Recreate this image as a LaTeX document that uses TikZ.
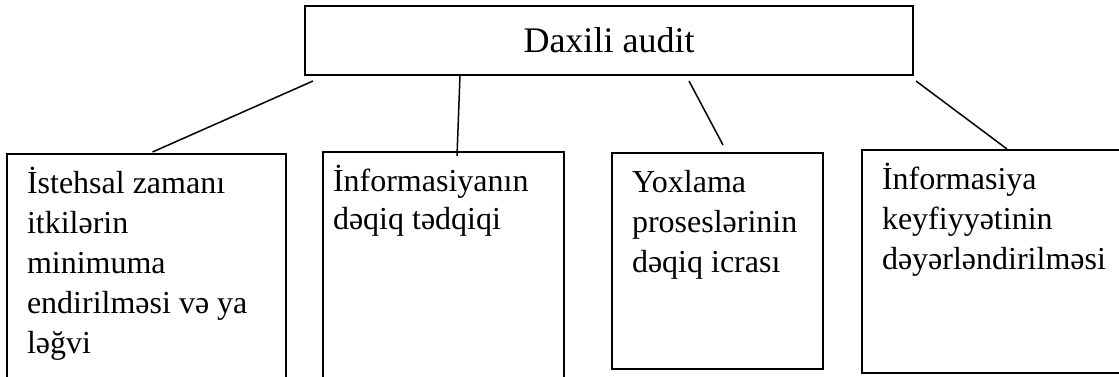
\documentclass[tikz,border=0pt]{standalone}
\usepackage{fontspec}
\setmainfont{Liberation Serif}
\usetikzlibrary{calc, positioning}

\begin{document}
\begin{tikzpicture}
                        [x=0.5pt, y=-0.5pt,
                         every node/.style={draw, line width=0.8pt, outer sep=0pt},
                         ustkutu/.style={anchor=north west, minimum width=304pt, minimum height=34.5pt,
                                         inner sep=0pt, font=\fontsize{18}{21}\selectfont},
                         kutu/.style={anchor=north west, align=flush left, inner xsep=10pt, inner ysep=0pt,
                                      text height=19.5pt, font=\fontsize{16}{20}\selectfont},
                         xett/.style={draw, line width=0.75pt}]

                        \useasboundingbox (0,0) rectangle (1119,376);
                        \clip (0,0) rectangle (1119,376);

                        \node[ustkutu] (audit) at (305,6) {Daxili audit}; % Root

                        \node[kutu, text width=119.5pt, text depth=105.5pt] (itki) at (7,154)
                            {İstehsal zamanı\\ itkilərin\\ minimuma\\ endirilməsi və ya\\ ləğvi};
                        \node[kutu, inner xsep=5pt, text width=110.5pt, text depth=104.5pt] (tedqiq) at (323,152)
                            {İnformasiyanın\\[-1pt] dəqiq tədqiqi};
                        \node[kutu, text width=85.5pt, text depth=88.5pt] (yoxlama) at (612,153)
                            {Yoxlama\\ proseslərinin\\ dəqiq icrası};
                        \node[kutu, text width=125pt, text depth=92pt] (keyfiyyet) at (862,150)
                            {İnformasiya\\ keyfiyyətinin\\ dəyərləndirilməsi};

                        % line ends under the root
                        \coordinate (u1) at ($(audit.south west)+(8,6)$);
                        \coordinate (u2) at ($(audit.south west)+(155,0)$);
                        \coordinate (u3) at ($(audit.south west)+(384,6)$);
                        \coordinate (u4) at ($(audit.south east)+(3,6)$);
                        % line ends over the boxes
                        \coordinate (a1) at ($(itki.north)+(6,-2)$);
                        \coordinate (a2) at ($(tedqiq.north)+(13.5,4)$);
                        \coordinate (a3) at ($(yoxlama.north)+(5.5,-8)$);
                        \coordinate (a4) at ($(keyfiyyet.north)+(0,-1)$);

                        \draw[xett] (u1) -- (a1);
                        \draw[xett] (u2) -- (a2);
                        \draw[xett] (u3) -- (a3);
                        \draw[xett] (u4) -- (a4);
                    \end{tikzpicture}
\end{document}
